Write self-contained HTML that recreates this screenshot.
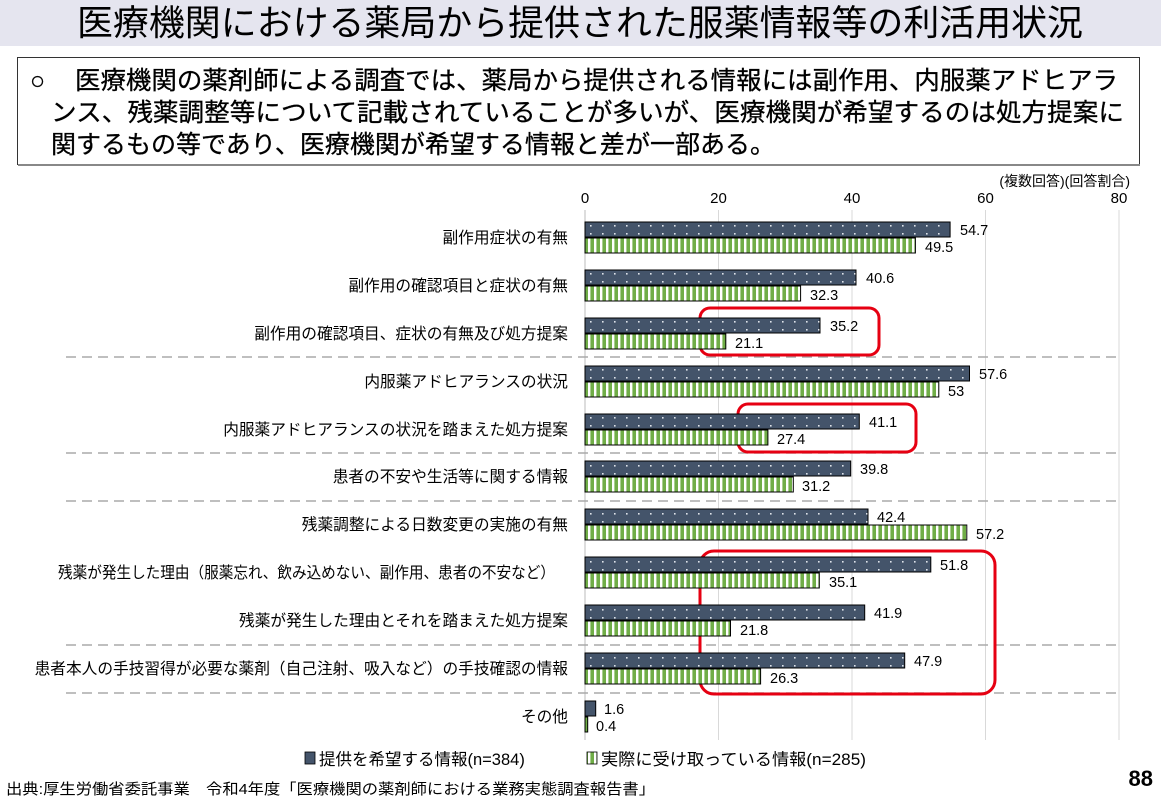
<!DOCTYPE html>
<html><head><meta charset="utf-8"><style>
body{margin:0;background:#fff;}
svg{display:block;font-family:"Liberation Sans","Noto Sans CJK JP",sans-serif;}
</style></head><body>
<svg width="1161" height="803" viewBox="0 0 1161 803" xmlns="http://www.w3.org/2000/svg">
<defs>
<pattern id="dots" width="12" height="8" patternUnits="userSpaceOnUse" x="585" y="222">
<rect width="12" height="8" fill="#44546a"/><rect x="5" y="3" width="1.6" height="1.6" fill="#dfe4ea"/>
</pattern>
<pattern id="stripes" width="6" height="10" patternUnits="userSpaceOnUse" x="585">
<rect width="6" height="10" fill="#70ad47"/><rect x="3" width="2.4" height="10" fill="#fff"/>
</pattern>
</defs>
<rect x="0" y="0" width="1161" height="46" fill="#e5e5ef"/>
<text x="580" y="35" font-size="35.5" text-anchor="middle" fill="#000" textLength="1006" lengthAdjust="spacingAndGlyphs">医療機関における薬局から提供された服薬情報等の利活用状況</text>
<rect x="17.5" y="57.5" width="1122" height="107" fill="#fff" stroke="#333" stroke-width="1"/>
<line x1="18" y1="165" x2="1140" y2="165" stroke="#888" stroke-width="2"/>
<g font-size="25" fill="#000" stroke="#000" stroke-width="0.3">
<text x="30" y="89">○</text>
<text x="75" y="89" textLength="1043" lengthAdjust="spacingAndGlyphs">医療機関の薬剤師による調査では、薬局から提供される情報には副作用、内服薬アドヒアラ</text>
<text x="51" y="121" textLength="1073" lengthAdjust="spacingAndGlyphs">ンス、残薬調整等について記載されていることが多いが、医療機関が希望するのは処方提案に</text>
<text x="51" y="153" textLength="724" lengthAdjust="spacingAndGlyphs">関するもの等であり、医療機関が希望する情報と差が一部ある。</text>
</g>
<text x="1130" y="186" font-size="14" text-anchor="end">(複数回答)(回答割合)</text>
<g font-size="15" text-anchor="middle">
<text x="585" y="203">0</text><text x="718.5" y="203">20</text><text x="852" y="203">40</text><text x="985.5" y="203">60</text><text x="1119" y="203">80</text>
</g>
<g stroke="#d9d9d9" stroke-width="1">
<line x1="718.5" y1="210" x2="718.5" y2="740"/><line x1="852" y1="210" x2="852" y2="740"/><line x1="985.5" y1="210" x2="985.5" y2="740"/><line x1="1119" y1="210" x2="1119" y2="740"/>
</g>
<line x1="585" y1="210" x2="585" y2="740" stroke="#bbb" stroke-width="1"/>
<g stroke="#aaa" stroke-width="1.5" stroke-dasharray="10,6">
<line x1="66" y1="357" x2="1119" y2="357"/><line x1="66" y1="453" x2="1119" y2="453"/><line x1="66" y1="501" x2="1119" y2="501"/><line x1="66" y1="645" x2="1119" y2="645"/><line x1="66" y1="693" x2="1119" y2="693"/>
</g>
<g fill="none" stroke="#e60012" stroke-width="3">
<rect x="700" y="308" width="179" height="47" rx="10"/>
<rect x="738" y="404" width="178" height="48" rx="10"/>
<rect x="700" y="551" width="295" height="143" rx="14"/>
</g>
<rect x="305" y="752" width="10" height="12" fill="#44546a" stroke="#000" stroke-width="0.8"/>
<text x="319" y="765" font-size="16.5">提供を希望する情報(n=384)</text>
<rect x="587" y="752" width="10" height="12" fill="url(#stripes)" stroke="#000" stroke-width="0.8"/>
<text x="601" y="765" font-size="16.5" textLength="265" lengthAdjust="spacingAndGlyphs">実際に受け取っている情報(n=285)</text>
<text x="6" y="794" font-size="15" textLength="649" lengthAdjust="spacingAndGlyphs">出典:厚生労働省委託事業　令和4年度「医療機関の薬剤師における業務実態調査報告書」</text>
<text x="1153" y="786" font-size="22" font-weight="bold" text-anchor="end">88</text>
<g font-size="15.7" text-anchor="end">
<text x="568" y="243">副作用症状の有無</text>
<text x="568" y="291">副作用の確認項目と症状の有無</text>
<text x="568" y="339">副作用の確認項目、症状の有無及び処方提案</text>
<text x="568" y="387">内服薬アドヒアランスの状況</text>
<text x="568" y="435">内服薬アドヒアランスの状況を踏まえた処方提案</text>
<text x="568" y="482">患者の不安や生活等に関する情報</text>
<text x="568" y="530">残薬調整による日数変更の実施の有無</text>
<text x="58" y="578" text-anchor="start" textLength="497" lengthAdjust="spacingAndGlyphs">残薬が発生した理由（服薬忘れ、飲み込めない、副作用、患者の不安など）</text>
<text x="568" y="626">残薬が発生した理由とそれを踏まえた処方提案</text>
<text x="568" y="674">患者本人の手技習得が必要な薬剤（自己注射、吸入など）の手技確認の情報</text>
<text x="568" y="722">その他</text>
</g>
<g font-size="14.5">
<rect x="585" y="222" width="365.1" height="15" fill="url(#dots)" stroke="#000"/><text x="960" y="235">54.7</text>
<rect x="585" y="238" width="330.4" height="15" fill="url(#stripes)" stroke="#000"/><text x="925" y="252">49.5</text>
<rect x="585" y="270" width="271.0" height="15" fill="url(#dots)" stroke="#000"/><text x="866" y="283">40.6</text>
<rect x="585" y="286" width="215.6" height="15" fill="url(#stripes)" stroke="#000"/><text x="810" y="300">32.3</text>
<rect x="585" y="318" width="235.0" height="15" fill="url(#dots)" stroke="#000"/><text x="830" y="331">35.2</text>
<rect x="585" y="334" width="140.8" height="15" fill="url(#stripes)" stroke="#000"/><text x="735" y="348">21.1</text>
<rect x="585" y="366" width="384.5" height="15" fill="url(#dots)" stroke="#000"/><text x="979" y="379">57.6</text>
<rect x="585" y="382" width="353.8" height="15" fill="url(#stripes)" stroke="#000"/><text x="948" y="396">53</text>
<rect x="585" y="414" width="274.3" height="15" fill="url(#dots)" stroke="#000"/><text x="869" y="427">41.1</text>
<rect x="585" y="430" width="182.9" height="15" fill="url(#stripes)" stroke="#000"/><text x="777" y="444">27.4</text>
<rect x="585" y="461" width="265.7" height="15" fill="url(#dots)" stroke="#000"/><text x="860" y="474">39.8</text>
<rect x="585" y="477" width="208.3" height="15" fill="url(#stripes)" stroke="#000"/><text x="802" y="491">31.2</text>
<rect x="585" y="509" width="283.0" height="15" fill="url(#dots)" stroke="#000"/><text x="877" y="522">42.4</text>
<rect x="585" y="525" width="381.8" height="15" fill="url(#stripes)" stroke="#000"/><text x="976" y="539">57.2</text>
<rect x="585" y="557" width="345.8" height="15" fill="url(#dots)" stroke="#000"/><text x="940" y="570">51.8</text>
<rect x="585" y="573" width="234.3" height="15" fill="url(#stripes)" stroke="#000"/><text x="829" y="587">35.1</text>
<rect x="585" y="605" width="279.7" height="15" fill="url(#dots)" stroke="#000"/><text x="874" y="618">41.9</text>
<rect x="585" y="621" width="145.5" height="15" fill="url(#stripes)" stroke="#000"/><text x="740" y="635">21.8</text>
<rect x="585" y="653" width="319.7" height="15" fill="url(#dots)" stroke="#000"/><text x="914" y="666">47.9</text>
<rect x="585" y="669" width="175.6" height="15" fill="url(#stripes)" stroke="#000"/><text x="770" y="683">26.3</text>
<rect x="585" y="701" width="10.7" height="15" fill="#44546a" stroke="#000"/><text x="604" y="714">1.6</text>
<rect x="585" y="717" width="2.7" height="15" fill="#70ad47" stroke="#000"/><text x="596" y="731">0.4</text>
</g>
</svg>
</body></html>
